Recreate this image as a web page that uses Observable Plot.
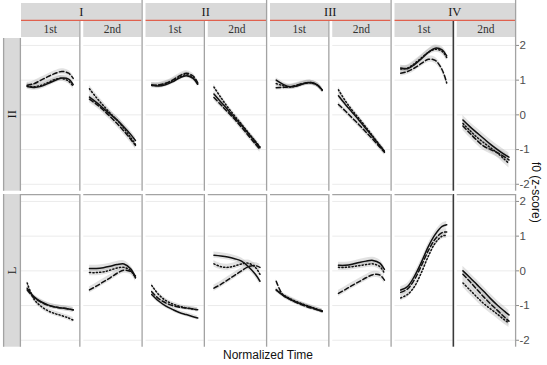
<!DOCTYPE html>
<html><head><meta charset="utf-8">
<script src="https://cdn.jsdelivr.net/npm/d3@7"></script>
<script src="https://cdn.jsdelivr.net/npm/@observablehq/plot@0.6"></script>
<style>body{margin:0;background:#fff} #chart{width:547px;height:365px}</style>
</head><body><div id="chart"></div>
<script>
const tones = ["I","II","III","IV"];
const positions = ["1st","2nd"];
const rows = ["II","L"];
const series = ["solid","dashed","dotted"];
const tGrid = [0,0.15,0.3,0.45,0.6,0.75,0.9,1];
const yTicks = [-2,-1,0,1,2];
const xLabel = "Normalized Time";
const yLabel = "f0 (z-score)";

// one inner array per panel: I 1st, I 2nd, II 1st, II 2nd, III 1st, III 2nd, IV 1st, IV 2nd
const rowII_solid = [
 [0.82,0.79,0.82,0.90,0.99,1.06,1.03,0.87],
 [0.51,0.36,0.19,0.02,-0.15,-0.35,-0.57,-0.74],
 [0.85,0.83,0.87,0.95,1.06,1.13,1.05,0.88],
 [0.60,0.37,0.15,-0.08,-0.30,-0.54,-0.78,-0.95],
 [1.00,0.88,0.81,0.83,0.90,0.93,0.86,0.72],
 [0.55,0.30,0.07,-0.16,-0.40,-0.64,-0.89,-1.05],
 [1.35,1.33,1.45,1.62,1.80,1.92,1.87,1.70],
 [-0.15,-0.34,-0.51,-0.68,-0.85,-1.00,-1.14,-1.22]
];
const rowII_dashed = [
 [0.85,0.90,1.00,1.10,1.19,1.25,1.20,1.05],
 [0.45,0.31,0.14,-0.05,-0.25,-0.47,-0.71,-0.88],
 [0.86,0.86,0.91,1.00,1.12,1.20,1.12,0.93],
 [0.50,0.29,0.08,-0.13,-0.36,-0.60,-0.84,-1.00],
 [0.78,0.79,0.81,0.86,0.91,0.93,0.85,0.70],
 [0.30,0.11,-0.09,-0.29,-0.50,-0.71,-0.93,-1.08],
 [1.20,1.25,1.35,1.48,1.60,1.57,1.30,0.92],
 [-0.32,-0.53,-0.73,-0.90,-1.00,-1.09,-1.21,-1.30]
];
const rowII_dotted = [
 [0.83,0.81,0.85,0.93,1.02,1.05,0.97,0.82],
 [0.75,0.50,0.27,0.05,-0.15,-0.39,-0.66,-0.85],
 [0.85,0.85,0.90,0.98,1.08,1.16,1.07,0.90],
 [0.80,0.50,0.22,-0.03,-0.27,-0.52,-0.76,-0.92],
 [0.90,0.84,0.80,0.84,0.90,0.92,0.85,0.72],
 [0.72,0.40,0.13,-0.11,-0.36,-0.62,-0.88,-1.05],
 [1.32,1.35,1.48,1.64,1.80,1.89,1.83,1.65],
 [-0.25,-0.45,-0.64,-0.80,-0.95,-1.10,-1.28,-1.40]
];
const rowL_solid = [
 [-0.50,-0.75,-0.89,-0.98,-1.04,-1.07,-1.10,-1.12],
 [0.07,0.07,0.09,0.13,0.18,0.20,0.05,-0.20],
 [-0.68,-0.87,-1.01,-1.11,-1.20,-1.26,-1.32,-1.36],
 [0.45,0.43,0.40,0.35,0.28,0.12,-0.10,-0.30],
 [-0.55,-0.71,-0.82,-0.91,-0.98,-1.05,-1.12,-1.17],
 [0.16,0.16,0.19,0.24,0.28,0.30,0.22,0.04],
 [-0.55,-0.45,-0.15,0.25,0.70,1.05,1.28,1.33],
 [0.00,-0.19,-0.39,-0.59,-0.80,-0.99,-1.16,-1.27]
];
const rowL_dashed = [
 [-0.55,-0.77,-0.90,-0.99,-1.04,-1.07,-1.10,-1.13],
 [-0.55,-0.44,-0.32,-0.20,-0.07,0.02,-0.02,-0.15],
 [-0.60,-0.80,-0.92,-1.00,-1.05,-1.07,-1.10,-1.12],
 [-0.50,-0.39,-0.26,-0.13,0.00,0.12,0.15,0.10],
 [-0.30,-0.70,-0.82,-0.92,-1.00,-1.07,-1.12,-1.15],
 [-0.65,-0.54,-0.42,-0.31,-0.20,-0.11,-0.12,-0.27],
 [-0.62,-0.52,-0.25,0.15,0.58,0.92,1.10,1.12],
 [-0.10,-0.31,-0.53,-0.75,-0.95,-1.14,-1.33,-1.45]
];
const rowL_dotted = [
 [-0.35,-0.82,-1.02,-1.15,-1.23,-1.29,-1.36,-1.42],
 [-0.05,-0.05,-0.03,0.02,0.08,0.10,0.00,-0.20],
 [-0.42,-0.68,-0.85,-0.95,-1.02,-1.07,-1.10,-1.13],
 [0.20,0.12,0.10,0.14,0.20,0.22,0.10,-0.10],
 [-0.55,-0.69,-0.80,-0.89,-0.97,-1.04,-1.11,-1.17],
 [0.10,0.10,0.12,0.15,0.18,0.20,0.12,-0.07],
 [-0.78,-0.68,-0.45,-0.05,0.42,0.80,1.00,1.02],
 [-0.35,-0.55,-0.75,-0.94,-1.10,-1.25,-1.41,-1.50]
];
// confidence ribbon half-width per panel
const rowII_se = [0.08,0.10,0.07,0.08,0.07,0.08,0.09,0.13];
const rowL_se  = [0.07,0.09,0.06,0.09,0.06,0.09,0.09,0.13];

const panels = tones.flatMap(t => positions.map(p => t + " " + p));
const rowTables = {
  II: {solid: rowII_solid, dashed: rowII_dashed, dotted: rowII_dotted, se: rowII_se},
  L:  {solid: rowL_solid,  dashed: rowL_dashed,  dotted: rowL_dotted,  se: rowL_se}
};
const data = [];
for (const r of rows) panels.forEach((p, i) => {
  for (const s of series) tGrid.forEach((t, k) => {
    data.push({row: r, panel: p, series: s, t, y: rowTables[r][s][i][k], se: rowTables[r].se[i]});
  });
});
const key = d => d.row + "|" + d.panel + "|" + d.series;
const common = {x: "t", fx: "panel", fy: "row", z: key, curve: "catmull-rom"};
const dash = {solid: null, dashed: "4.5,2.5", dotted: "1.2,2.2"};

const chart = Plot.plot({
  width: 547, height: 365,
  marginLeft: 21, marginRight: 32, marginTop: 38, marginBottom: 18.3,
  style: {fontFamily: "'Liberation Sans', Arial, sans-serif", background: "#fff"},
  x: {domain: [-0.124, 1.142], axis: null},
  y: {domain: [-2.2, 2.2], axis: null},
  fx: {domain: panels, axis: null, paddingInner: 0.0643, paddingOuter: 0, round: false},
  fy: {domain: rows, axis: null, paddingInner: 0.021, paddingOuter: 0, round: false},
  marks: [
    Plot.ruleY(yTicks, {stroke: "#ebebeb", strokeWidth: 1}),
    Plot.areaY(data, {...common, y1: d => d.y - d.se, y2: d => d.y + d.se, fill: "#a0a0a0", fillOpacity: 0.3}),
    ...series.map(s => Plot.line(data.filter(d => d.series === s), {...common, y: "y", stroke: "#111", strokeWidth: 1.5, strokeDasharray: dash[s]})),
    Plot.axisY({anchor: "right", ticks: yTicks, tickSize: 3, tickPadding: 1, facetAnchor: "right", fontSize: 11.5, stroke: "#8a8a8a", fill: "#4d4d4d", label: null, tickFormat: d => String(d)})
  ]
});
document.getElementById("chart").appendChild(chart);

// strips, borders and titles, positioned through Plot's facet scales
const fx = chart.scale("fx"), fy = chart.scale("fy");
const bw = fx.bandwidth, bh = fy.bandwidth;
const svg = d3.select(chart);
const g = svg.append("g");
const serif = "'Liberation Serif', 'Times New Roman', serif";
const stripFill = "#d9d9d9", borderCol = "#a3a3a3";
// level-1 strips
tones.forEach(t => {
  const x0 = fx.apply(t + " 1st"), x1 = fx.apply(t + " 2nd") + bw;
  g.append("rect").attr("x", x0).attr("y", 3).attr("width", x1 - x0).attr("height", 17).attr("fill", stripFill);
  g.append("line").attr("x1", x0).attr("x2", x1).attr("y1", 20.3).attr("y2", 20.3).attr("stroke", "#e0614e").attr("stroke-width", 1.2);
  g.append("text").attr("x", (x0 + x1) / 2).attr("y", 12).attr("text-anchor", "middle").attr("dominant-baseline", "central")
    .attr("font-family", serif).attr("font-size", 12.5).attr("fill", "#1a1a1a").text(t);
});
// level-2 strips and panel borders
panels.forEach(p => {
  const x0 = fx.apply(p), [t, pos] = p.split(" ");
  g.append("rect").attr("x", x0).attr("y", 21).attr("width", bw).attr("height", 16).attr("fill", stripFill);
  g.append("text").attr("x", x0 + bw / 2).attr("y", 29).attr("text-anchor", "middle").attr("dominant-baseline", "central")
    .attr("font-family", serif).attr("font-size", 11.5).attr("fill", "#333").text(pos);
  const xr = x0 + bw + 0.6;
  const dark = p === "IV 1st";
  rows.forEach((r, i) => {
    const y0 = fy.apply(r);
    const top = i === 0 ? (pos === "2nd" ? 0 : 21) : y0;
    g.append("line").attr("x1", xr).attr("x2", xr).attr("y1", top).attr("y2", y0 + bh)
      .attr("stroke", dark ? "#3a3a3a" : borderCol).attr("stroke-width", dark ? 1.6 : 1.3);
    if (i > 0) g.append("line").attr("x1", x0).attr("x2", x0 + bw).attr("y1", y0 + 0.6).attr("y2", y0 + 0.6)
      .attr("stroke", borderCol).attr("stroke-width", 1.4);
  });
});
// row strips
rows.forEach(r => {
  const y0 = fy.apply(r);
  g.append("rect").attr("x", 3).attr("y", y0).attr("width", 18).attr("height", bh).attr("fill", stripFill);
  [3.6, 20.4].forEach(x => g.append("line").attr("x1", x).attr("x2", x).attr("y1", y0).attr("y2", y0 + bh)
    .attr("stroke", borderCol).attr("stroke-width", 1.3));
  g.append("text").attr("transform", `translate(12,${y0 + bh / 2}) rotate(-90)`).attr("text-anchor", "middle")
    .attr("dominant-baseline", "central").attr("font-family", serif).attr("font-size", 12.5).attr("fill", "#1a1a1a").text(r);
});
// axis titles
const xMid = (fx.apply(panels[0]) + fx.apply(panels[7]) + bw) / 2;
g.append("text").attr("x", xMid).attr("y", 358.5).attr("text-anchor", "middle")
  .attr("font-family", "'Liberation Sans', Arial, sans-serif").attr("font-size", 12).attr("fill", "#111").text(xLabel);
const yMid = (fy.apply("II") + fy.apply("L") + bh) / 2;
g.append("text").attr("transform", `translate(536,${yMid}) rotate(90)`).attr("text-anchor", "middle")
  .attr("dominant-baseline", "central").attr("font-family", "'Liberation Sans', Arial, sans-serif")
  .attr("font-size", 12).attr("fill", "#111").text(yLabel);
</script>
</body></html>
